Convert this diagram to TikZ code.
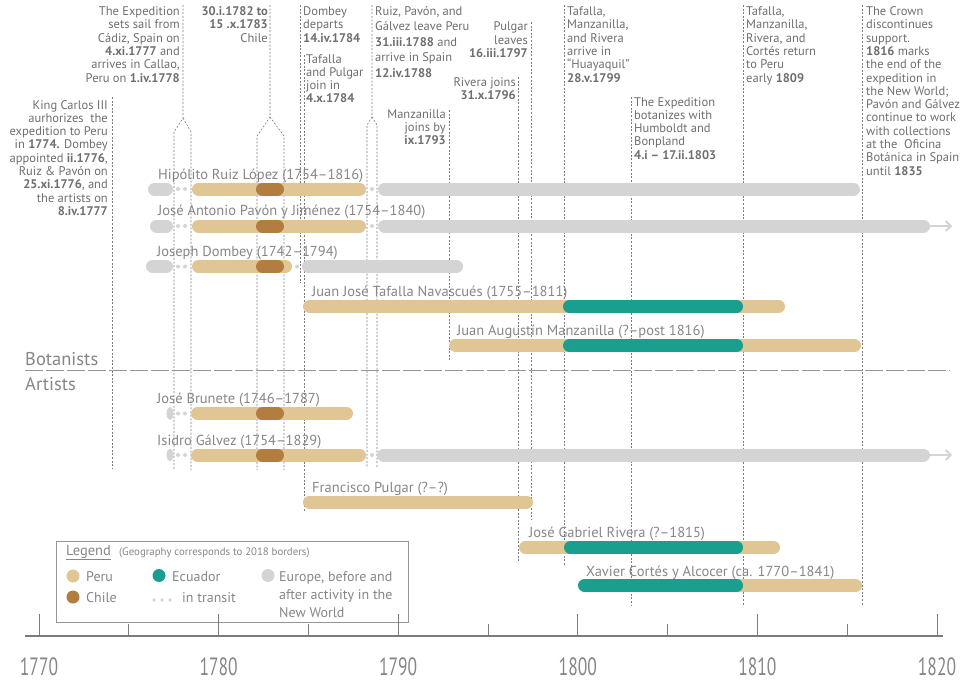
\documentclass[tikz,border=0pt]{standalone}
\usepackage{fontspec}
\setmainfont{PT Sans}
\newfontfamily\axisfont[FakeStretch=0.7]{PT Sans}
\usetikzlibrary{arrows.meta}
\definecolor{peru}{HTML}{E0C695}
\definecolor{chile}{HTML}{B27D3E}
\definecolor{ecu}{HTML}{1A9E8E}
\definecolor{euro}{HTML}{D3D4D3}
\definecolor{nametxt}{HTML}{868686}
\definecolor{notetxt}{HTML}{6E6E6E}
\definecolor{rulec}{HTML}{7C7C7C}
\newcommand\tlbar[4]{\draw[barline,#1] (#2+6.5,#4) -- (#3-6.5,#4);}
\newcommand\tldot[2]{\fill[euro] (#1,#2) circle (2pt);}
\begin{document}
\begin{tikzpicture}[x=1pt,y=-1pt,
  barline/.style={line width=13pt, line cap=round},
  evline/.style={draw=rulec, line width=0.6pt, dash pattern=on 2pt off 1.6pt},
  pname/.style={anchor=base west, text=nametxt, inner sep=0pt, font=\fontsize{14.5}{17}\selectfont},
  noteR/.style={anchor=base east, align=right, text=notetxt, inner sep=0pt, font=\fontsize{12.5}{13.3}\selectfont},
  noteL/.style={anchor=base west, align=left, text=notetxt, inner sep=0pt, font=\fontsize{12.5}{13.3}\selectfont},
  sect/.style={anchor=base west, text=nametxt, inner sep=0pt, font=\fontsize{18.5}{20}\selectfont},
  leg/.style={anchor=base west, text=nametxt, inner sep=0pt, font=\fontsize{14}{18}\selectfont},
  yearlab/.style={anchor=base, text=nametxt, inner sep=0pt, font=\axisfont\fontsize{25}{26}\selectfont}
]
\useasboundingbox (0,0) rectangle (967,685);

% ---------- event lines ----------
\draw[evline] (112,97) -- (112,468);
\draw[evline] (183,5) -- (183,118) -- (174,132) -- (174,470);
\draw[evline] (183,118) -- (191,132) -- (191,470);
\draw[evline] (270,5) -- (270,117) -- (257,136) -- (257,470);
\draw[evline] (270,117) -- (284,136) -- (284,470);
\draw[evline] (300,5) -- (300,283);
\draw[evline] (304,55) -- (304,512);
\draw[evline] (372,5) -- (372,117) -- (367,125) -- (367,468);
\draw[evline] (372,117) -- (377,125) -- (377,468);
\draw[evline] (449,110) -- (449,362);
\draw[evline] (518,77) -- (518,563);
\draw[evline] (531,22) -- (531,520);
\draw[evline] (564,5) -- (564,565);
\draw[evline] (631,97) -- (631,605);
\draw[evline] (743,5) -- (743,605);
\draw[evline] (862,5) -- (862,605);

% ---------- annotations (anchored at the baseline of the last line) ----------
\node[noteR] (nKing) at (108,215.4) {King Carlos III\\aurhorizes\ \ the\\expedition to Peru\\in \textbf{1774.} Dombey\\appointed \textbf{ii.1776},\\Ruiz \& Pavón on\\\textbf{25.xi.1776}, and\\the artists on\\\textbf{8.iv.1777}};
\node[noteR] (nSail) at (180,82) {The Expedition\\sets sail from\\Cádiz, Spain on\\\textbf{4.xi.1777} and\\arrives in Callao,\\Peru on \textbf{1.iv.1778}};
\node[noteR] (nChile) at (268,42.1) {\textbf{30.i.1782 to}\\\textbf{15 .x.1783}\\Chile};
\node[noteL] (nDomb) at (303,42.1) {Dombey\\departs\\\textbf{14.iv.1784}};
\node[noteL] (nTaf) at (306,102.9) {Tafalla\\and Pulgar\\join in\\\textbf{4.x.1784}};
\node[noteL, font=\fontsize{12.5}{15.4}\selectfont] (nLeave) at (375,77.1) {Ruiz, Pavón, and\\Gálvez leave Peru\\\textbf{31.iii.1788} and\\arrive in Spain\\\textbf{12.iv.1788}};
\node[noteR] (nManz) at (446,144.6) {Manzanilla\\joins by\\\textbf{ix.1793}};
\node[noteR] (nRiv) at (516,99.3) {Rivera joins\\\textbf{31.x.1796}};
\node[noteR] (nPulg) at (528,57.6) {Pulgar\\leaves\\\textbf{16.iii.1797}};
\node[noteL] (nHuay) at (567,82) {Tafalla,\\Manzanilla,\\and Rivera\\arrive in\\“Huayaquil”\\\textbf{28.v.1799}};
\node[noteL] (nHumb) at (634,159.2) {The Expedition\\botanizes with\\Humboldt and\\Bonpland\\\textbf{4.i – 17.ii.1803}};
\node[noteL] (nRet) at (746,82) {Tafalla,\\Manzanilla,\\Rivera, and\\Cortés return\\to Peru\\early \textbf{1809}};
\node[noteL] (nCrown) at (866,175.1) {The Crown\\discontinues\\support.\\\textbf{1816} marks\\the end of the\\expedition in\\the New World;\\Pavón and Gálvez\\continue to work\\with collections\\at the\ \ Oficina\\Botánica in Spain\\until \textbf{1835}};

% ---------- Botanists ----------
\node[pname] (lRuiz) at (158,179) {Hipólito Ruiz López (1754–1816)};
\tlbar{euro}{148}{173}{189}
\tldot{178}{189}\tldot{185}{189}
\tlbar{peru}{192}{366}{189}
\tlbar{chile}{256}{284}{189}
\tldot{372}{189}
\tlbar{euro}{378}{860}{189}

\node[pname] (lPavon) at (158,215.5) {José Antonio Pavón y Jiménez (1754–1840)};
\tlbar{euro}{150}{173}{226}
\tldot{178}{226}\tldot{185}{226}
\tlbar{peru}{192}{366}{226}
\tlbar{chile}{256}{284}{226}
\tldot{372}{226}
\tlbar{euro}{378}{930}{226}
\coordinate (pavA) at (929,226);
\coordinate (pavB) at (952,226);
\draw[euro, line width=1.8pt, -{Straight Barb[length=5pt,width=10pt,line width=1.8pt]}] (pavA) -- (pavB);

\node[pname] (lDomb) at (157,256.5) {Joseph Dombey (1742–1794)};
\tlbar{euro}{146}{173}{266.5}
\tldot{178}{266.5}\tldot{185}{266.5}
\tlbar{peru}{192}{292}{266.5}
\tlbar{chile}{256}{284}{266.5}
\tldot{297}{266.5}
\tlbar{euro}{302}{463}{266.5}

\node[pname] (lTaf) at (312,296.5) {Juan José Tafalla Navascués (1755–1811)};
\tlbar{peru}{303}{785}{306.5}
\tlbar{ecu}{563}{743}{306.5}

\node[pname] (lManz) at (457,335.5) {Juan Augustín Manzanilla (?–post 1816)};
\tlbar{peru}{449}{861}{345.5}
\tlbar{ecu}{563}{743}{345.5}

% ---------- divider ----------
\node[sect] (bot) at (25,365) {Botanists};
\node[sect] (art) at (25,390) {Artists};
\coordinate (divA) at (25,370.5);
\coordinate (divB) at (950,370.5);
\draw[draw=rulec!80, line width=1pt, dash pattern=on 18pt off 3pt] (divA) -- (divB);

% ---------- Artists ----------
\node[pname] (lBrun) at (157,403.5) {José Brunete (1746–1787)};
\fill[euro] (170,413.5) ellipse (3.4pt and 6.5pt);
\tldot{178}{413.5}\tldot{185}{413.5}
\tlbar{peru}{191}{353}{413.5}
\tlbar{chile}{256}{284}{413.5}

\node[pname] (lGalv) at (157,445) {Isidro Gálvez (1754–1829)};
\fill[euro] (170,455) ellipse (3.4pt and 6.5pt);
\tldot{178}{455}\tldot{185}{455}
\tlbar{peru}{191}{366}{455}
\tlbar{chile}{256}{284}{455}
\tldot{372}{455}
\tlbar{euro}{377}{930}{455}
\coordinate (galA) at (929,455);
\coordinate (galB) at (952,455);
\draw[euro, line width=1.8pt, -{Straight Barb[length=5pt,width=10pt,line width=1.8pt]}] (galA) -- (galB);

\node[pname] (lPulg) at (312,492) {Francisco Pulgar (?–?)};
\tlbar{peru}{303}{533}{502}

\node[pname] (lRiv) at (529,537) {José Gabriel Rivera (?–1815)};
\tlbar{peru}{519}{780}{547.5}
\tlbar{ecu}{564}{743}{547.5}

\node[pname] (lCort) at (586,576) {Xavier Cortés y Alcocer (ca. 1770–1841)};
\tlbar{peru}{700}{862}{585.5}
\tlbar{ecu}{578}{743}{585.5}

% ---------- legend ----------
\node[draw=rulec!80, line width=0.9pt, minimum width=352pt, minimum height=81pt, inner sep=0pt, anchor=north west] (legbox) at (56,541) {};
\node[anchor=base west, text=nametxt, inner sep=0pt, font=\fontsize{14.5}{16}\selectfont] (legT) at (66,555) {\underline{Legend}};
\node[anchor=base west, text=nametxt, inner sep=0pt, font=\fontsize{10.8}{12}\selectfont] (legG) at (119,555) {(Geography corresponds to 2018 borders)};
\fill[peru] (73,576) circle (6.5pt);
\node[leg] (lgPeru) at (86,581) {Peru};
\fill[chile] (73,597) circle (6.5pt);
\node[leg] (lgChile) at (86,602) {Chile};
\fill[ecu] (159,575.5) circle (6.5pt);
\node[leg] (lgEcu) at (172,581) {Ecuador};
\fill[euro] (154,600) circle (1.8pt);
\fill[euro] (162,600) circle (1.8pt);
\fill[euro] (170,600) circle (1.8pt);
\node[leg] (lgTr) at (182,602) {in transit};
\fill[euro] (268,575.5) circle (6.5pt);
\node[leg, align=left] (lgEu) at (279,617) {Europe, before and\\after activity in the\\New World};

% ---------- axis ----------
\coordinate (axA) at (25,636);
\coordinate (axB) at (943,636);
\draw[rulec, line width=1.6pt] (axA) -- (axB);
\foreach \yr/\lab in {0/1770,10/1780,20/1790,30/1800,40/1810,50/1820} {
  \draw[rulec, line width=1pt] ({39+\yr*17.96},614) -- ({39+\yr*17.96},636);
  \node[yearlab] (y\lab) at ({39+\yr*17.96},675) {\lab};
}
\foreach \yr in {5,15,25,35,45} {
  \draw[rulec, line width=1pt] ({39+\yr*17.96},624) -- ({39+\yr*17.96},636);
}
\end{tikzpicture}
\end{document}
